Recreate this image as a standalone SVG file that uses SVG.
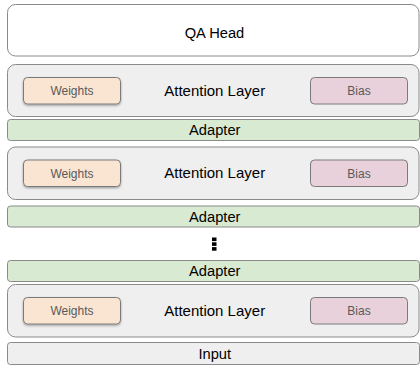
<svg xmlns="http://www.w3.org/2000/svg" width="420" height="368" viewBox="0 0 420 368">
<defs>
<filter id="sh" x="-10%" y="-20%" width="120%" height="160%">
<feDropShadow dx="0" dy="1.2" stdDeviation="0.9" flood-color="#000" flood-opacity="0.35"/>
</filter>
<style>
text{font-family:"Liberation Sans",Arial,sans-serif;text-anchor:middle;fill:#000}
.head{fill:#ffffff;stroke:#8a8a8a;stroke-width:1}
.layer{fill:#efefef;stroke:#8a8a8a;stroke-width:1}
.adapter{fill:#d9ead3;stroke:#8a8a8a;stroke-width:1}
.input{fill:#efefef;stroke:#8a8a8a;stroke-width:1}
.w{fill:#fae5d2;stroke:#7a7a7a;stroke-width:1;filter:url(#sh)}
.b{fill:#e8d1db;stroke:#7a7a7a;stroke-width:1}
.big{font-size:14.7px}
.att{font-size:15px}
.small{font-size:12px;fill:#595959}
</style>
</defs>
<g id="qa-head">
<rect class="head" x="7.5" y="4.5" width="411.5" height="51.5" rx="8"/>
<text class="big" x="214.5" y="37.5">QA Head</text>
</g>
<g id="attention-1">
<rect class="layer" x="7.5" y="64.5" width="411.5" height="52" rx="8"/>
<rect class="w" x="23.5" y="77.5" width="97" height="26.5" rx="4"/>
<text class="small" x="72" y="95">Weights</text>
<rect class="b" x="310.5" y="77.5" width="97" height="26.5" rx="4"/>
<text class="small" x="359" y="95">Bias</text>
<text class="att" x="214.7" y="95.5">Attention Layer</text>
</g>
<g id="adapter-1">
<rect class="adapter" x="7.5" y="119.5" width="412" height="21" rx="3"/>
<text class="big" x="214.8" y="135.3">Adapter</text>
</g>
<g id="attention-2">
<rect class="layer" x="7.5" y="147" width="411.5" height="52.5" rx="8"/>
<rect class="w" x="23.5" y="160" width="97" height="26.5" rx="4"/>
<text class="small" x="72" y="177.5">Weights</text>
<rect class="b" x="310.5" y="160" width="97" height="26.5" rx="4"/>
<text class="small" x="359" y="177.5">Bias</text>
<text class="att" x="214.7" y="178">Attention Layer</text>
</g>
<g id="adapter-2">
<rect class="adapter" x="7.5" y="206" width="412" height="21" rx="3"/>
<text class="big" x="214.8" y="221.8">Adapter</text>
</g>
<g id="ellipsis">
<rect x="212" y="237.5" width="4.5" height="3.6" fill="#000"/>
<rect x="212" y="242.3" width="4.5" height="3.6" fill="#000"/>
<rect x="212" y="247.1" width="4.5" height="3.6" fill="#000"/>
</g>
<g id="adapter-3">
<rect class="adapter" x="7.5" y="260.5" width="412" height="21" rx="3"/>
<text class="big" x="214.8" y="276.3">Adapter</text>
</g>
<g id="attention-3">
<rect class="layer" x="7.5" y="284.5" width="411.5" height="52.5" rx="8"/>
<rect class="w" x="23.5" y="297.5" width="97" height="26.5" rx="4"/>
<text class="small" x="72" y="315">Weights</text>
<rect class="b" x="310.5" y="297.5" width="97" height="26.5" rx="4"/>
<text class="small" x="359" y="315">Bias</text>
<text class="att" x="214.7" y="315.5">Attention Layer</text>
</g>
<g id="input">
<rect class="input" x="7.5" y="342.5" width="412" height="22" rx="3"/>
<text class="big" x="214.8" y="358.5">Input</text>
</g>
<g id="connectors"></g>
</svg>
